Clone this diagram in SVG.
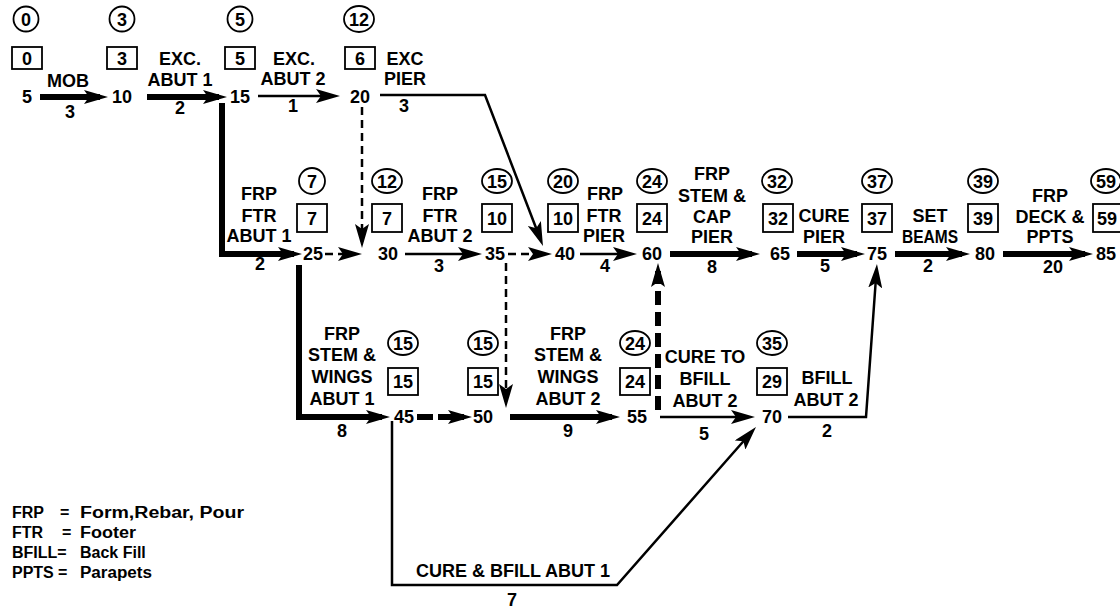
<svg xmlns="http://www.w3.org/2000/svg" width="1120" height="611" viewBox="0 0 1120 611">
<defs>
<style>
text{font-family:"Liberation Sans",Arial,sans-serif;font-weight:bold;font-size:18px;fill:#000;text-anchor:middle}
.lg{font-size:16px;text-anchor:start}
.ring{fill:none;stroke:#000;stroke-width:1.8}
.box{fill:none;stroke:#000;stroke-width:1.8}
.thin{fill:none;stroke:#000;stroke-width:2.5}
.thick{fill:none;stroke:#000;stroke-width:6}
.dash{fill:none;stroke:#000;stroke-width:2.5;stroke-dasharray:8 5}
.tdash{fill:none;stroke:#000;stroke-width:6;stroke-dasharray:14 7}
.tdash2{fill:none;stroke:#000;stroke-width:6;stroke-dasharray:16 5}
.arr{marker-end:url(#ah)}
</style>
<marker id="ah" viewBox="0 0 24 14" refX="16" refY="7" markerWidth="24" markerHeight="14" markerUnits="userSpaceOnUse" orient="auto">
<path d="M0,0 L24,7 L0,14 L5,7 Z" fill="#000"/>
</marker>
</defs>
<rect width="1120" height="611" fill="#fff"/>

<g id="connectors">
<g id="a-5-10"><path class="thick arr" d="M40,97 H100"/><text x="68" y="87">MOB</text><text x="70" y="118">3</text></g>
<g id="a-10-15"><path class="thick arr" d="M147,97 H219"/><text x="180" y="65">EXC.</text><text x="180" y="86">ABUT 1</text><text x="180" y="114">2</text></g>
<g id="a-15-20"><path class="thin arr" d="M258,96 H332"/><text x="294" y="65">EXC.</text><text x="293" y="85">ABUT 2</text><text x="293" y="112">1</text></g>
<g id="a-20-40"><path class="thin arr" d="M380,95 H485 L540.1,238.5"/><text x="405" y="65">EXC</text><text x="405" y="85">PIER</text><text x="404" y="112">3</text></g>
<g id="d-20-30"><path class="dash arr" d="M362,107 V240"/></g>
<g id="a-15-25"><path class="thick arr" d="M222,103 V254 H294"/><text x="259" y="200">FRP</text><text x="259" y="222">FTR</text><text x="259" y="242">ABUT 1</text><text x="260" y="270">2</text></g>
<g id="d-25-30"><path class="dash arr" d="M325,254 H354"/></g>
<g id="a-30-35"><path class="thin arr" d="M405,254 H474"/><text x="440" y="200">FRP</text><text x="440" y="222">FTR</text><text x="440" y="242">ABUT 2</text><text x="439" y="272">3</text></g>
<g id="d-35-40"><path class="dash arr" d="M508,254 H544"/></g>
<g id="a-40-60"><path class="thin arr" d="M580,254 H629"/><text x="605" y="200">FRP</text><text x="604" y="222">FTR</text><text x="604" y="242">PIER</text><text x="605" y="272">4</text></g>
<g id="a-60-65"><path class="thick arr" d="M670,254 H752"/><text x="712" y="180">FRP</text><text x="712" y="202">STEM &amp;</text><text x="712" y="223">CAP</text><text x="712" y="243">PIER</text><text x="712" y="273">8</text></g>
<g id="a-65-75"><path class="thick arr" d="M797,254 H857"/><text x="824" y="222">CURE</text><text x="824" y="243">PIER</text><text x="825" y="272">5</text></g>
<g id="a-75-80"><path class="thick arr" d="M895,254 H962"/><text x="930" y="222">SET</text><text x="930" y="243" textLength="56" lengthAdjust="spacingAndGlyphs">BEAMS</text><text x="928" y="272">2</text></g>
<g id="a-80-85"><path class="thick arr" d="M1003,254 H1085"/><text x="1050" y="202">FRP</text><text x="1050" y="223">DECK &amp;</text><text x="1050" y="243">PPTS</text><text x="1053" y="273">20</text></g>
<g id="d-35-50"><path class="dash arr" d="M506,263 V400"/></g>
<g id="a-25-45"><path class="thick arr" d="M299,265 V417 H382"/><text x="342" y="340">FRP</text><text x="342" y="361">STEM &amp;</text><text x="342" y="383">WINGS</text><text x="342" y="405">ABUT 1</text><text x="342" y="437">8</text></g>
<g id="d-45-50"><path class="tdash2 arr" d="M417,417 H464"/></g>
<g id="a-50-55"><path class="thick arr" d="M510,417 H612"/><text x="568" y="340">FRP</text><text x="568" y="361">STEM &amp;</text><text x="568" y="383">WINGS</text><text x="568" y="405">ABUT 2</text><text x="568" y="437">9</text></g>
<g id="d-55-60"><path class="tdash arr" d="M658,410 V271"/></g>
<g id="a-55-70"><path class="thin arr" d="M660,417 H747"/><text x="705" y="363">CURE TO</text><text x="705" y="385">BFILL</text><text x="705" y="407">ABUT 2</text><text x="704" y="440">5</text></g>
<g id="a-70-75"><path class="thin arr" d="M788,417 H866 L876.4,272"/><text x="827" y="384">BFILL</text><text x="826" y="406">ABUT 2</text><text x="827" y="437">2</text></g>
<g id="a-45-70"><path class="thin arr" d="M392,421 V585 H617 L750.7,433"/><text x="513" y="577">CURE &amp; BFILL ABUT 1</text><text x="512" y="606">7</text></g>
</g>

<g id="n5"><circle class="ring" cx="26" cy="19" r="12.5"/><text x="26" y="25.5">0</text><rect class="box" x="12" y="47" width="30" height="22"/><text x="27" y="64.5">0</text><text x="27" y="103">5</text></g>
<g id="n10"><circle class="ring" cx="122" cy="19" r="12.5"/><text x="122" y="25.5">3</text><rect class="box" x="107" y="47" width="30" height="22"/><text x="122" y="64.5">3</text><text x="122" y="103">10</text></g>
<g id="n15"><circle class="ring" cx="240" cy="19" r="12.5"/><text x="240" y="25.5">5</text><rect class="box" x="225" y="47" width="30" height="22"/><text x="240" y="64.5">5</text><text x="240" y="103">15</text></g>
<g id="n20"><ellipse class="ring" cx="359" cy="19" rx="15" ry="13"/><text x="359" y="25.5">12</text><rect class="box" x="345" y="47" width="30" height="22"/><text x="360" y="64.5">6</text><text x="360" y="103">20</text></g>

<g id="n25"><circle class="ring" cx="312" cy="181" r="13"/><text x="312" y="187.5">7</text><rect class="box" x="297" y="204" width="30" height="28"/><text x="312" y="225">7</text><text x="313" y="260">25</text></g>
<g id="n30"><ellipse class="ring" cx="387" cy="181" rx="15" ry="12"/><text x="387" y="187.5">12</text><rect class="box" x="372" y="204" width="30" height="28"/><text x="387" y="225">7</text><text x="388" y="260">30</text></g>
<g id="n35"><ellipse class="ring" cx="497" cy="181" rx="15" ry="12"/><text x="497" y="187.5">15</text><rect class="box" x="482" y="204" width="30" height="28"/><text x="497" y="225">10</text><text x="495" y="260">35</text></g>
<g id="n40"><ellipse class="ring" cx="563" cy="181" rx="15" ry="12"/><text x="563" y="187.5">20</text><rect class="box" x="548" y="204" width="30" height="28"/><text x="563" y="225">10</text><text x="565" y="260">40</text></g>
<g id="n60"><ellipse class="ring" cx="652" cy="181" rx="15" ry="12"/><text x="652" y="187.5">24</text><rect class="box" x="637" y="204" width="30" height="28"/><text x="652" y="225">24</text><text x="652" y="260">60</text></g>
<g id="n65"><ellipse class="ring" cx="777" cy="181" rx="15" ry="12"/><text x="777" y="187.5">32</text><rect class="box" x="763" y="204" width="30" height="28"/><text x="778" y="225">32</text><text x="780" y="260">65</text></g>
<g id="n75"><ellipse class="ring" cx="877" cy="181" rx="15" ry="12"/><text x="877" y="187.5">37</text><rect class="box" x="862" y="204" width="30" height="28"/><text x="877" y="225">37</text><text x="877" y="260">75</text></g>
<g id="n80"><ellipse class="ring" cx="983" cy="181" rx="15" ry="12"/><text x="983" y="187.5">39</text><rect class="box" x="968" y="204" width="30" height="28"/><text x="983" y="225">39</text><text x="985" y="260">80</text></g>
<g id="n85"><ellipse class="ring" cx="1106" cy="181" rx="15" ry="12"/><text x="1106" y="187.5">59</text><rect class="box" x="1093" y="204" width="30" height="28"/><text x="1107" y="225">59</text><text x="1106" y="260">85</text></g>

<g id="n45"><ellipse class="ring" cx="403" cy="343" rx="15" ry="12"/><text x="403" y="349.5">15</text><rect class="box" x="388" y="368" width="30" height="27"/><text x="403" y="388">15</text><text x="404" y="423">45</text></g>
<g id="n50"><ellipse class="ring" cx="483" cy="343" rx="15" ry="12"/><text x="483" y="349.5">15</text><rect class="box" x="468" y="368" width="30" height="27"/><text x="483" y="388">15</text><text x="483" y="423">50</text></g>
<g id="n55"><ellipse class="ring" cx="635" cy="343" rx="15" ry="12"/><text x="635" y="349.5">24</text><rect class="box" x="620" y="368" width="30" height="27"/><text x="635" y="388">24</text><text x="637" y="423">55</text></g>
<g id="n70"><ellipse class="ring" cx="772" cy="343" rx="15" ry="12"/><text x="772" y="349.5">35</text><rect class="box" x="757" y="368" width="30" height="27"/><text x="772" y="388">29</text><text x="772" y="423">70</text></g>

<g id="legend">
<text class="lg" x="12" y="518">FRP</text><text class="lg" x="60" y="518">=</text><text class="lg" x="80" y="518" textLength="164" lengthAdjust="spacingAndGlyphs">Form,Rebar, Pour</text>
<text class="lg" x="12" y="538">FTR</text><text class="lg" x="62" y="538">=</text><text class="lg" x="80" y="538" textLength="56" lengthAdjust="spacingAndGlyphs">Footer</text>
<text class="lg" x="12" y="558">BFILL=</text><text class="lg" x="80" y="558">Back Fill</text>
<text class="lg" x="12" y="578">PPTS</text><text class="lg" x="58" y="578">=</text><text class="lg" x="80" y="578" textLength="72" lengthAdjust="spacingAndGlyphs">Parapets</text>
</g>
</svg>
